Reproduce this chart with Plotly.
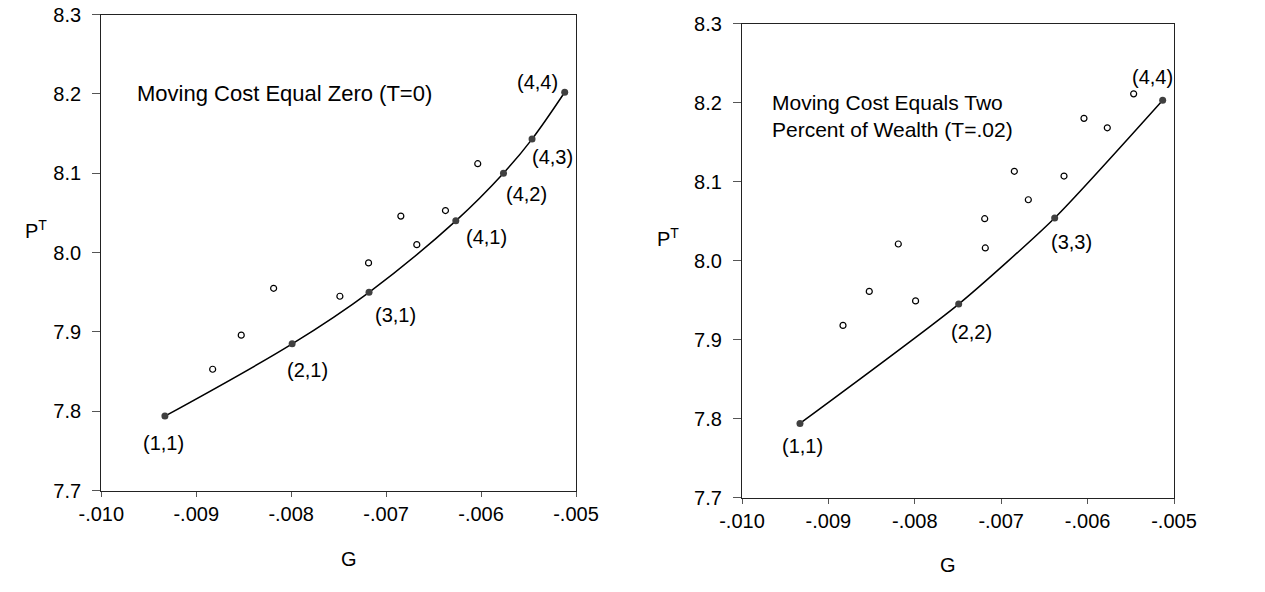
import plotly.graph_objects as go

# ---- data ----
# Left panel: moving cost zero (T=0)
left_path_g = [-0.00933, -0.00799, -0.00718, -0.006266, -0.005764, -0.005463, -0.005119]
left_path_p = [7.794, 7.885, 7.950, 8.040, 8.100, 8.143, 8.202]
left_path_labels = ["(1,1)", "(2,1)", "(3,1)", "(4,1)", "(4,2)", "(4,3)", "(4,4)"]
left_other_g = [-0.008827, -0.008526, -0.008185, -0.007487, -0.007185, -0.006677, -0.006845, -0.006375, -0.006035]
left_other_p = [7.853, 7.896, 7.955, 7.945, 7.987, 8.010, 8.046, 8.053, 8.112]

# Right panel: moving cost two percent of wealth (T=.02)
right_path_g = [-0.009329, -0.007492, -0.006381, -0.005131]
right_path_p = [7.794, 7.945, 8.054, 8.203]
right_path_labels = ["(1,1)", "(2,2)", "(3,3)", "(4,4)"]
right_other_g = [-0.008831, -0.008527, -0.007991, -0.008191, -0.007184, -0.007191,
                 -0.006686, -0.006848, -0.006273, -0.006042, -0.005772, -0.005467]
right_other_p = [7.918, 7.961, 7.949, 8.021, 8.016, 8.053,
                 8.077, 8.113, 8.107, 8.180, 8.168, 8.211]

x_tickvals = [-0.010, -0.009, -0.008, -0.007, -0.006, -0.005]
x_ticktext = ["-.010", "-.009", "-.008", "-.007", "-.006", "-.005"]
y_tickvals = [7.7, 7.8, 7.9, 8.0, 8.1, 8.2, 8.3]
y_ticktext = ["7.7", "7.8", "7.9", "8.0", "8.1", "8.2", "8.3"]

FONT = "Liberation Sans, Arial, sans-serif"
W, H, OFF = 1265, 592, 0  # body margin removed by post_script below


def px(sx):
    return (sx - OFF) / W


def py(sy):
    return 1 - (sy - OFF) / H


fig = go.Figure()


def add_panel(xa, ya, pg, pp, og, op, smoothing):
    fig.add_trace(go.Scatter(x=pg, y=pp, mode="lines", xaxis=xa, yaxis=ya,
                             line=dict(color="black", width=1.5, shape="spline", smoothing=smoothing),
                             showlegend=False, hoverinfo="skip"))
    fig.add_trace(go.Scatter(x=og, y=op, mode="markers", xaxis=xa, yaxis=ya,
                             marker=dict(symbol="circle-open", size=6, color="black",
                                         line=dict(width=1.2, color="black")),
                             showlegend=False))
    fig.add_trace(go.Scatter(x=pg, y=pp, mode="markers", xaxis=xa, yaxis=ya,
                             marker=dict(symbol="circle", size=7, color="#404040"),
                             showlegend=False))


add_panel("x", "y", left_path_g, left_path_p, left_other_g, left_other_p, 1.0)
add_panel("x2", "y2", right_path_g, right_path_p, right_other_g, right_other_p, 0.6)

axis_common = dict(showgrid=False, zeroline=False, showline=True, linecolor="#222222", linewidth=1.3,
                   mirror=True, ticks="outside", tickcolor="#555555", tickwidth=1,
                   automargin=False, ticklabeloverflow="allow",
                   tickfont=dict(family=FONT, size=20, color="black"))
xaxis_common = dict(ticklen=5, ticklabelstandoff=0, range=[-0.010, -0.005],
                    tickvals=x_tickvals, ticktext=x_ticktext, **axis_common)
yaxis_common = dict(ticklen=8, ticklabelstandoff=7, range=[7.7, 8.3],
                    tickvals=y_tickvals, ticktext=y_ticktext, **axis_common)

fig.update_layout(
    width=W, height=H,
    margin=dict(l=0, r=0, t=0, b=0),
    paper_bgcolor="white", plot_bgcolor="white",
    font=dict(family=FONT, size=20, color="black"),
    xaxis=dict(domain=[px(101.3), px(576)], anchor="y", **xaxis_common),
    yaxis=dict(domain=[py(490.7), py(14.5)], anchor="x", **yaxis_common),
    xaxis2=dict(domain=[px(742), px(1174)], anchor="y2", **xaxis_common),
    yaxis2=dict(domain=[py(497.7), py(23.5)], anchor="x2", **yaxis_common),
)

ann = []
# point labels (offsets in pixels: right, down)
left_offsets = [(-1, 27), (15, 26), (26, 23), (31, 16), (23, 21), (20, 18), (-27, -10)]
for g, p, t, (dx, dy) in zip(left_path_g, left_path_p, left_path_labels, left_offsets):
    ann.append(dict(x=g, y=p, xref="x", yref="y", text=t, showarrow=False,
                    xshift=dx, yshift=-dy, font=dict(size=20)))
right_offsets = [(3, 23), (13, 28), (17, 24), (-10, -23)]
for g, p, t, (dx, dy) in zip(right_path_g, right_path_p, right_path_labels, right_offsets):
    ann.append(dict(x=g, y=p, xref="x2", yref="y2", text=t, showarrow=False,
                    xshift=dx, yshift=-dy, font=dict(size=20)))

# panel notes
ann.append(dict(x=-0.009645, y=8.2003, xref="x", yref="y", text="Moving Cost Equal Zero (T=0)",
                showarrow=False, xanchor="left", yanchor="middle", font=dict(size=22)))
ann.append(dict(x=-0.009676, y=8.183, xref="x2", yref="y2",
                text="Moving Cost Equals Two<br>Percent of Wealth (T=.02)",
                showarrow=False, xanchor="left", yanchor="middle", align="left", font=dict(size=21)))

# axis titles
ann.append(dict(x=px(339), y=py(572), xref="paper", yref="paper", text="G",
                showarrow=False, font=dict(size=20)))
ann.append(dict(x=px(958), y=py(578), xref="paper", yref="paper", text="G",
                showarrow=False, font=dict(size=20)))
ann.append(dict(x=px(23), y=py(230), xref="paper", yref="paper", text="P<sup>T</sup>",
                showarrow=False, font=dict(size=20)))
ann.append(dict(x=px(668), y=py(237), xref="paper", yref="paper", text="P<sup>T</sup>",
                showarrow=False, font=dict(size=20)))

fig.update_layout(annotations=ann)
fig.write_html("out.html", config={"displayModeBar": False},
               post_script="document.body.style.margin='0px';document.body.style.overflow='hidden';")
